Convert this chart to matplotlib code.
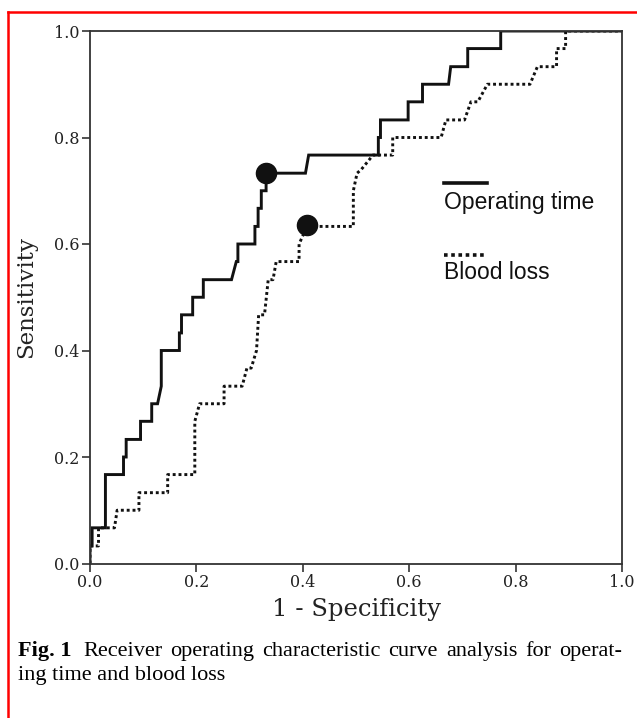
import matplotlib
matplotlib.use("Agg")
import matplotlib.pyplot as plt
from matplotlib.lines import Line2D

# ROC curve vertices (1 - specificity, sensitivity)
op_fpr = [0, 0, 0.004, 0.004, 0.029, 0.029, 0.063, 0.063, 0.068, 0.068, 0.095, 0.095,
          0.116, 0.116, 0.127, 0.134, 0.134, 0.168, 0.168, 0.172, 0.172, 0.193, 0.193,
          0.213, 0.213, 0.266, 0.275, 0.278, 0.278, 0.31, 0.31, 0.316, 0.316, 0.322,
          0.322, 0.331, 0.331, 0.405, 0.411, 0.542, 0.542, 0.546, 0.546, 0.598, 0.598,
          0.625, 0.625, 0.674, 0.678, 0.71, 0.71, 0.772, 0.772, 1.0]
op_tpr = [0, 0.033, 0.033, 0.067, 0.067, 0.167, 0.167, 0.2, 0.2, 0.233, 0.233, 0.267,
          0.267, 0.3, 0.3, 0.333, 0.4, 0.4, 0.433, 0.433, 0.467, 0.467, 0.5,
          0.5, 0.533, 0.533, 0.567, 0.567, 0.6, 0.6, 0.633, 0.633, 0.667, 0.667,
          0.7, 0.7, 0.733, 0.733, 0.767, 0.767, 0.8, 0.8, 0.833, 0.833, 0.867,
          0.867, 0.9, 0.9, 0.933, 0.933, 0.967, 0.967, 1.0, 1.0]

bl_fpr = [0, 0, 0.016, 0.016, 0.046, 0.051, 0.092, 0.092, 0.146, 0.146, 0.197, 0.197,
          0.206, 0.252, 0.252, 0.286, 0.295, 0.303, 0.313, 0.317, 0.328, 0.335, 0.344,
          0.35, 0.393, 0.393, 0.408, 0.495, 0.495, 0.502, 0.51, 0.532, 0.569, 0.569,
          0.66, 0.669, 0.704, 0.716, 0.729, 0.747, 0.827, 0.841, 0.877, 0.877, 0.894,
          0.894, 1.0]
bl_tpr = [0, 0.033, 0.033, 0.067, 0.067, 0.1, 0.1, 0.133, 0.133, 0.167, 0.167, 0.267,
          0.3, 0.3, 0.333, 0.333, 0.367, 0.367, 0.4, 0.467, 0.467, 0.533, 0.533,
          0.567, 0.567, 0.6, 0.633, 0.633, 0.7, 0.733, 0.74, 0.767, 0.767, 0.8,
          0.8, 0.833, 0.833, 0.867, 0.867, 0.9, 0.9, 0.933, 0.933, 0.967, 0.967,
          1.0, 1.0]

# cut-off points
op_cut = (0.331, 0.733)
bl_cut = (0.408, 0.636)

ticks = [0.0, 0.2, 0.4, 0.6, 0.8, 1.0]

caption_line1 = "Receiver operating characteristic curve analysis for operat-"
caption_line2 = "ing time and blood loss"

fig = plt.figure(figsize=(6.37, 7.18), dpi=100)
ax = fig.add_axes([90 / 637, 154.5 / 718, 532 / 637, 532.5 / 718])

ax.plot(op_fpr, op_tpr, color="#111111", lw=2.1, solid_joinstyle="miter")
ax.plot(bl_fpr, bl_tpr, color="#111111", lw=2.1, linestyle=(0, (1, 1)),
        dash_capstyle="butt")
ax.plot(*op_cut, "o", color="#111111", markersize=14.5)
ax.plot(*bl_cut, "o", color="#111111", markersize=14.5)

# legend drawn by hand: key line above its label
ax.plot([0.666, 0.747], [0.715, 0.715], color="#111111", lw=2.6)
ax.text(0.666, 0.677, "Operating time", fontsize=16.5, family="Liberation Sans",
        va="center", ha="left", color="#111111")
ax.plot([0.666, 0.747], [0.58, 0.58], color="#111111", lw=2.6,
        linestyle=(0, (1, 1)), dash_capstyle="butt")
ax.text(0.666, 0.546, "Blood loss", fontsize=16.5, family="Liberation Sans",
        va="center", ha="left", color="#111111")

ax.set_xlim(0, 1)
ax.set_ylim(0, 1)
ax.set_xticks(ticks)
ax.set_yticks(ticks)
ax.set_xticklabels([f"{t:.1f}" for t in ticks], family="DejaVu Serif", fontsize=11.5)
ax.set_yticklabels([f"{t:.1f}" for t in ticks], family="DejaVu Serif", fontsize=11.5)
ax.tick_params(direction="out", length=6, width=1.2, color="#333333", pad=1.5,
               labelcolor="#222222")
for s in ax.spines.values():
    s.set_linewidth(1.3)
    s.set_color("#333333")

ax.set_xlabel("1 - Specificity", family="DejaVu Serif", fontsize=17.5, labelpad=5,
              color="#222222")
ax.set_ylabel("Sensitivity", family="DejaVu Serif", fontsize=16.5, labelpad=12,
              color="#222222")

# caption, first line justified between x=83 and x=622 px
cap_kw = dict(family="Liberation Serif", fontsize=16, va="baseline")
fig.text(18 / 637, 0.0864, "Fig. 1", weight="bold", **cap_kw)
renderer = fig.canvas.get_renderer()
words = caption_line1.split()
word_texts = [fig.text(0, 0.0864, w, **cap_kw) for w in words]
widths = [t.get_window_extent(renderer).width for t in word_texts]
gap = (622 - 83 - sum(widths)) / (len(words) - 1)
x = 83
for t, w in zip(word_texts, widths):
    t.set_x(x / 637)
    x += w + gap
fig.text(18 / 637, 0.0525, caption_line2, **cap_kw)

# red frame (top and left edges visible)
fig.add_artist(Line2D([8 / 637, 1.0], [706 / 718, 706 / 718], color="red", lw=1.8,
                      transform=fig.transFigure))
fig.add_artist(Line2D([8 / 637, 8 / 637], [0, 706 / 718], color="red", lw=1.8,
                      transform=fig.transFigure))

fig.savefig("out.png", dpi=100)
